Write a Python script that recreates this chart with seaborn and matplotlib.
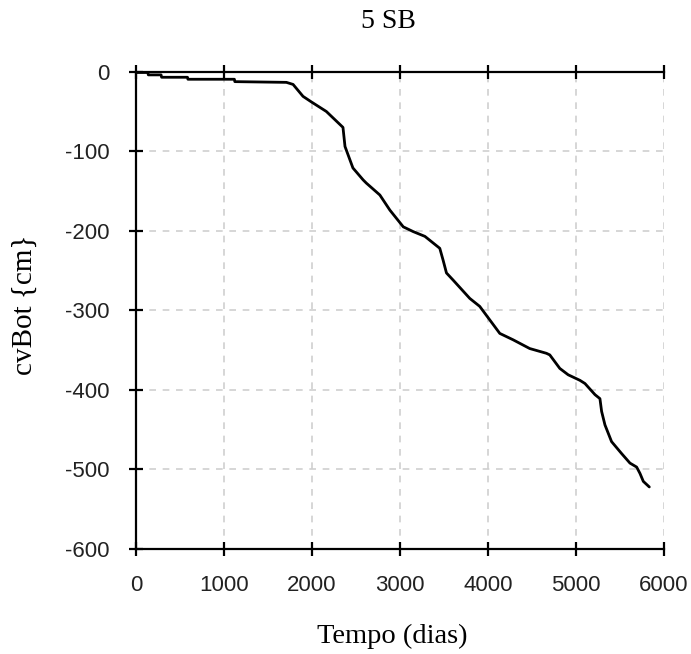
import matplotlib
matplotlib.use("Agg")
import matplotlib.pyplot as plt
import seaborn as sns
import pandas as pd

tempo = [0, 135, 140, 285, 291, 585, 590, 1118, 1123, 1709, 1785, 1898, 1993, 2163,
         2352, 2375, 2465, 2581, 2617, 2771, 2885, 3037, 3150, 3283, 3452, 3490,
         3528, 3604, 3793, 3906, 4020, 4134, 4285, 4474, 4664, 4702, 4816, 4911,
         5045, 5102, 5216, 5272, 5291, 5329, 5404, 5518, 5613, 5689, 5727, 5765, 5833]
cvbot = [-1, -1, -4, -4, -7, -7, -9.5, -9.5, -12.5, -13.4, -16, -31, -38, -50,
         -70, -94, -121, -136, -140, -155, -174, -195, -201, -207, -222, -237,
         -253, -262, -285, -295, -312, -329, -337, -348, -354, -356, -373, -381,
         -388, -392, -406, -411, -427, -444, -465, -480, -492, -497, -505, -515, -522]
xticks = [0, 1000, 2000, 3000, 4000, 5000, 6000]
yticks = [0, -100, -200, -300, -400, -500, -600]

sns.set_theme(style="white")
plt.rcParams["font.family"] = ["Liberation Sans", "DejaVu Sans"]

df = pd.DataFrame({"Tempo": tempo, "cvBot": cvbot})

fig = plt.figure(figsize=(6.91, 6.54), dpi=100)
ax = fig.add_axes([136/691, 1 - 549/654, (664-136)/691, (549-71.7)/654])

sns.lineplot(data=df, x="Tempo", y="cvBot", ax=ax, color="black", linewidth=2.0,
             estimator=None, sort=False)

ax.set_xlim(0, 6000)
ax.set_ylim(-600, 0)
ax.set_xticks(xticks)
ax.set_yticks(yticks)
ax.set_xticklabels([str(t) for t in xticks])
ax.set_yticklabels([str(t) for t in yticks])

ax.grid(True, color="#cfcfcf", linestyle=(0, (4, 4)), linewidth=1.2)
for side in ["left", "bottom", "top"]:
    ax.spines[side].set_visible(True)
    ax.spines[side].set_color("black")
    ax.spines[side].set_linewidth(1.6)
ax.spines["right"].set_visible(False)

ax.tick_params(axis="both", which="major", direction="inout", length=10, width=1.6,
               color="black", labelsize=16, labelcolor="#222222")
ax.tick_params(axis="x", top=True, labeltop=False, bottom=True, pad=14)
ax.tick_params(axis="y", left=True, right=False, pad=14)

serif = ["Liberation Serif", "DejaVu Serif"]
ax.set_xlabel("")
ax.set_ylabel("")
fig.text(392/691, 1 - 636/654, "Tempo (dias)", family=serif, fontsize=20.5,
         ha="center", va="center", color="black")
fig.text(25/691, 1 - 305/654, "cvBot {cm}", family=serif, fontsize=21,
         ha="center", va="center", rotation=90, color="black")
fig.text(388/691, 1 - 22/654, "5 SB", family=serif, fontsize=20,
         ha="center", va="center", color="black")

fig.savefig("out.png", dpi=100, facecolor="white")
